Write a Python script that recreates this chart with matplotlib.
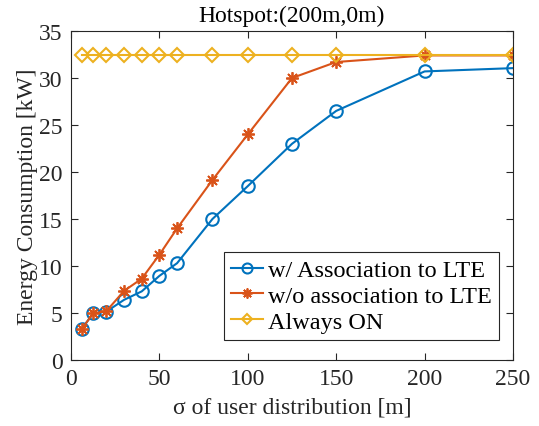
import matplotlib.pyplot as plt
import numpy as np

# sigma of user distribution [m]
sigma = [6.25, 12.5, 20, 30, 40, 50, 60, 80, 100, 125, 150, 200, 250]
# energy consumption [kW]
with_assoc = [3.35, 4.95, 5.15, 6.4, 7.3, 8.95, 10.3, 15.0, 18.5, 23.0, 26.5, 30.7, 31.05]
without_assoc = [3.35, 4.95, 5.2, 7.35, 8.65, 11.2, 14.0, 19.15, 24.0, 30.0, 31.7, 32.4, 32.4]
always_on = [32.4] * len(sigma)

plt.rcParams['font.family'] = ['Liberation Serif', 'DejaVu Serif']
fs = 17

fig = plt.figure(figsize=(5.39, 4.27), dpi=100)
ax = fig.add_axes([71 / 539, 66 / 427, 442 / 539, 329 / 427])

dark = '#262626'
ax.plot(sigma, with_assoc, color='#0072BD', marker='o', markersize=9,
        markerfacecolor='none', markeredgewidth=1.5, linewidth=1.5,
        label='w/ Association to LTE')
ax.plot(sigma, without_assoc, color='#D95319', marker=(8, 2, 0), markersize=9,
        markeredgewidth=1.3, linewidth=1.5, label='w/o association to LTE')
ax.plot(sigma, always_on, color='#EDB120', marker='D', markersize=7,
        markerfacecolor='none', markeredgewidth=1.5, linewidth=1.5,
        label='Always ON')

ax.set_xlim(0, 250)
ax.set_ylim(0, 35)
ax.set_xticks(np.arange(0, 251, 50))
ax.set_yticks(np.arange(0, 36, 5))
ax.tick_params(direction='in', top=True, right=True, length=5, pad=6,
               colors=dark, labelcolor=dark, labelsize=fs)
for s in ax.spines.values():
    s.set_color(dark)
    s.set_linewidth(0.8)

ax.set_xlabel('σ of user distribution [m]', color=dark, fontsize=fs, labelpad=5)
ax.set_ylabel('Energy Consumption [kW]', color=dark, fontsize=fs, labelpad=1)
ax.set_title('Hotspot:(200m,0m)', color='black', fontsize=fs, pad=7)

leg = ax.legend(loc='lower right', bbox_to_anchor=(0.968, 0.061), fontsize=17.5,
                fancybox=False, edgecolor=dark, framealpha=1,
                handlelength=1.3, handletextpad=0.2, borderpad=0.3,
                labelspacing=0.15, borderaxespad=0, markerscale=0.8)
leg.get_frame().set_linewidth(0.8)

fig.savefig('out.png', dpi=100)
